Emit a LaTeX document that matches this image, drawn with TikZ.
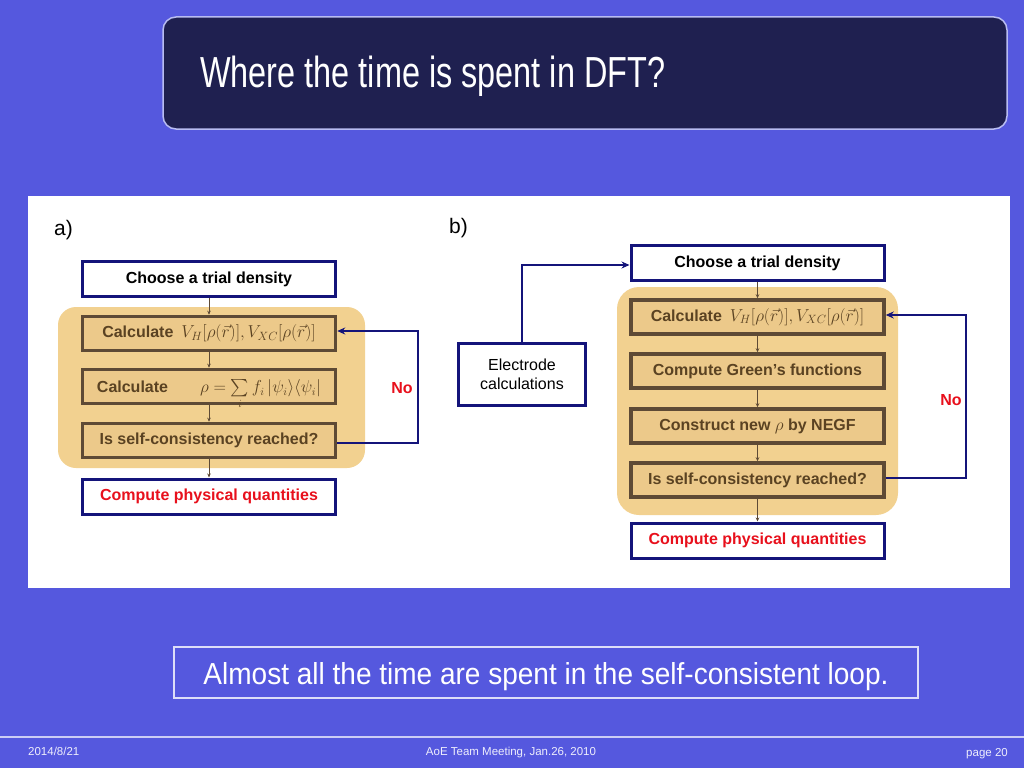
\documentclass[tikz,border=0pt]{standalone}
\usepackage{fontspec}
\setmainfont{Liberation Sans}
\usepackage{amsmath}
\usetikzlibrary{arrows.meta}
\definecolor{slidebg}{HTML}{5558DE}
\definecolor{titlebg}{HTML}{1F2050}
\definecolor{titleln}{HTML}{B8BCF2}
\definecolor{navy}{HTML}{14147A}
\definecolor{loopbg}{HTML}{F2D190}
\definecolor{boxbg}{HTML}{ECC98A}
\definecolor{brownln}{HTML}{5E4A35}
\definecolor{browntx}{HTML}{5A4222}
\definecolor{redtx}{HTML}{E8101C}
\tikzset{
  x=1pt,y=-1pt,
  navybox/.style={draw=navy,line width=3pt,fill=white,minimum width=253pt,minimum height=35pt,inner sep=0pt,
    font=\fontsize{16}{18}\selectfont\bfseries},
  brownbox/.style={draw=brownln,line width=3.5pt,fill=boxbg,minimum width=253pt,minimum height=34pt,inner sep=0pt,
    text=browntx,font=\fontsize{16}{18}\selectfont\bfseries},
  loopln/.style={draw=navy,line width=2pt},
  stepar/.style={draw=brownln,line width=0.8pt,-{Stealth[length=4pt,width=3.5pt]}},
  looparr/.style={loopln,-{Stealth[length=8pt,width=7pt]}},
  notext/.style={text=redtx,font=\fontsize{16}{18}\selectfont\bfseries},
  footer/.style={text=white!90!slidebg,font=\fontsize{11.5}{13}\selectfont},
}
\begin{document}
\begin{tikzpicture}
\useasboundingbox (0,0) rectangle (1024,768);
\fill[slidebg] (0,0) rectangle (1024,768);
% title
\draw[titleln,line width=1.5pt,fill=titlebg,rounded corners=13pt] (163,17) rectangle (1007,129);
\node[anchor=base west,inner sep=0pt,text=white] (title) at (200,88)
  {\resizebox{465pt}{31.5pt}{Where the time is spent in DFT?}};
% white panel
\fill[white] (28,196) rectangle (1010,588);
\node[anchor=base west,inner sep=0pt,font=\fontsize{21}{24}\selectfont] (la) at (54,235) {a)};
\node[anchor=base west,inner sep=0pt,font=\fontsize{21}{24}\selectfont] (lb) at (449,233) {b)};
% panel a
\fill[loopbg,rounded corners=18pt] (58,307) rectangle (365,468);
\node[navybox] (a1) at (209,279) {Choose a trial density};
\node[brownbox] (a2) at (209,333.5) {Calculate\enspace\fontsize{17}{18}\selectfont$V_H[\rho(\vec r)],V_{XC}[\rho(\vec r)]$};
\node[brownbox] (a3) at (209,386.5) {Calculate\qquad\fontsize{16}{16}\selectfont$\smash[b]{\rho=\sum\limits_i f_i\left|\psi_i\right\rangle\!\left\langle\psi_i\right|}$};
\node[brownbox] (a4) at (209,440.5) {Is self-consistency reached?};
\node[navybox,text=redtx] (a5) at (209,496.5) {Compute physical quantities};
\draw[stepar] (a1) -- (a2);
\draw[stepar] (a2) -- (a3);
\draw[stepar] (a3) -- (a4);
\draw[stepar] (a4) -- (a5);
\coordinate (ar1) at (418,443);
\coordinate (ar2) at (418,331);
\draw[looparr] (a4.east |- ar1) -- (ar1) -- (ar2) -- (a2.east |- ar2);
\node[notext] (noa) at (402,388) {No};
% panel b
\fill[loopbg,rounded corners=22pt] (617,287) rectangle (898,515);
\node[navybox] (b1) at (757.5,263) {Choose a trial density};
\node[brownbox] (b2) at (757.5,317) {Calculate\enspace\fontsize{17}{18}\selectfont$V_H[\rho(\vec r)],V_{XC}[\rho(\vec r)]$};
\node[brownbox] (b3) at (757.5,371) {Compute Green’s functions};
\node[brownbox] (b4) at (757.5,426) {Construct new $\rho$ by NEGF};
\node[brownbox] (b5) at (757.5,480) {Is self-consistency reached?};
\node[navybox,text=redtx] (b6) at (757.5,540.5) {Compute physical quantities};
\draw[stepar] (b1) -- (b2);
\draw[stepar] (b2) -- (b3);
\draw[stepar] (b3) -- (b4);
\draw[stepar] (b4) -- (b5);
\draw[stepar] (b5) -- (b6);
\node[draw=navy,line width=3pt,fill=white,minimum width=127pt,minimum height=62pt,inner sep=0pt,
  align=center,font=\fontsize{16}{19}\selectfont] (el) at (522,374.5) {Electrode\\calculations};
\coordinate (e1) at (522,265);
\draw[looparr] (el.north) -- (e1) -- (b1.west |- e1);
\coordinate (br1) at (966,478);
\coordinate (br2) at (966,315);
\draw[looparr] (b5.east |- br1) -- (br1) -- (br2) -- (b2.east |- br2);
\node[notext] (nob) at (951,400) {No};
% bottom statement
\draw[white!80!slidebg,line width=1.2pt] (174,647) rectangle (918,698);
\node[anchor=base,inner sep=0pt,text=white] (concl) at (546,684)
  {\resizebox{685pt}{22pt}{Almost all the time are spent in the self-consistent loop.}};
% footer
\draw[white!70!slidebg,line width=1.5pt] (0,737) -- (1024,737);
\node[footer,anchor=base west,inner sep=0pt] (f1) at (28,755) {2014/8/21};
\node[footer,anchor=base,inner sep=0pt] (f2) at (511,755) {AoE Team Meeting, Jan.26, 2010};
\node[footer,anchor=base east,inner sep=0pt] (f3) at (1008,756) {page 20};
\end{tikzpicture}
\end{document}
